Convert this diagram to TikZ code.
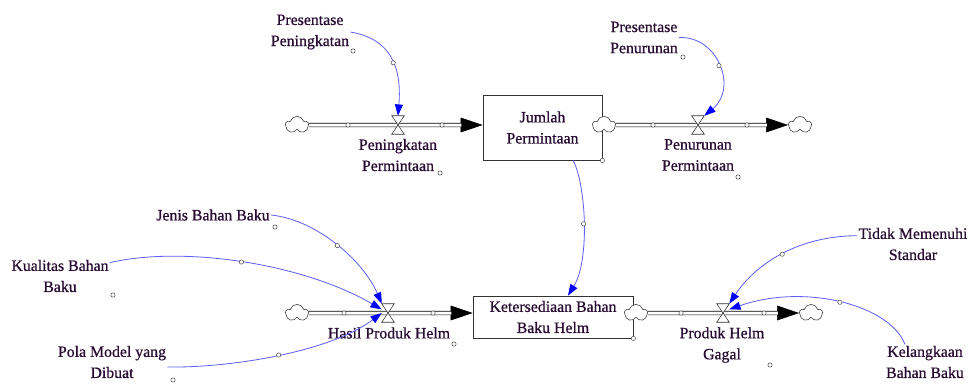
\documentclass[tikz,border=0pt]{standalone}
\usepackage{fontspec}
\setmainfont{Liberation Serif}
\newfontfamily\vensimfont[FakeBold=0.7]{Liberation Serif}
\usetikzlibrary{arrows.meta,shapes.symbols}
\definecolor{txt}{RGB}{40,12,50}
\definecolor{conn}{RGB}{95,95,245}
\newcommand{\valvesign}[1]{\draw[gray!40!black,fill=white,line width=.5pt] (#1.north west) -- (#1.north east) -- (#1.south west) -- (#1.south east) -- cycle;}

\begin{document}
\begin{tikzpicture}[x=.03cm,y=-.03cm,
	lbl/.style={align=center,text=txt,inner sep=1pt,font=\vensimfont\fontsize{13.5}{18}\selectfont},
	stock/.style={lbl,draw=gray!40!black,fill=white,line width=.6pt},
	valvebox/.style={minimum width=.36cm,minimum height=.54cm,inner sep=0pt},
	cloudy/.style={cloud,cloud puffs=5,draw=gray!50!black,fill=white,line width=.5pt,minimum width=.68cm,minimum height=.52cm,inner sep=0pt},
	handle/.style={circle,draw=gray!50!black,fill=white,line width=.4pt,inner sep=0pt,minimum size=1.3mm},
	link/.style={conn,line width=.7pt,-{Triangle[length=3.4mm,width=2.4mm,color=blue]}},
	pipetip/.style={line width=.5pt,-{Triangle[length=6.6mm,width=4.4mm]}},
	pipe/.style={double=white,double distance=.09cm,line width=.5pt,shorten >=6.4mm}]
	\useasboundingbox (0,0) rectangle (970,383);
		% stocks and clouds
		\node[stock,minimum width=3.57cm,minimum height=1.95cm] (jumlah) at (542.5,127.5) {Jumlah\\Permintaan};
		\node[stock,minimum width=4.8cm,minimum height=1.26cm] (sedia) at (553,317) {Ketersediaan Bahan\\Baku Helm};
		\node[cloudy] (cL1) at (297,125) {};
		\node[cloudy] (cR1) at (604,125) {};
		\node[cloudy] (cE1) at (800,125) {};
		\node[cloudy] (cL2) at (297,313) {};
		\node[cloudy] (cR2) at (636,313) {};
		\node[cloudy] (cE2) at (811,313) {};
		% valves
		\node[valvebox] (v1) at (398,125) {};
		\node[valvebox] (v4) at (698,125) {};
		\node[valvebox] (v2) at (388,313) {};
		\node[valvebox] (v3) at (723,313) {};
		% pipes
		\draw[pipetip] (cL1.east) -- (jumlah.west |- cL1);
		\draw[pipe] (cL1.east) -- (jumlah.west |- cL1);
		\draw[pipetip] (cR1.east) -- (cE1.west);
		\draw[pipe] (cR1.east) -- (cE1.west);
		\draw[pipetip] (cL2.east) -- (sedia.west |- cL2);
		\draw[pipe] (cL2.east) -- (sedia.west |- cL2);
		\draw[pipetip] (cR2.east) -- (cE2.west);
		\draw[pipe] (cR2.east) -- (cE2.west);
		\valvesign{v1}
		\valvesign{v4}
		\valvesign{v2}
		\valvesign{v3}
		\node[handle] (p1) at (348,125) {};
		\node[handle] (p2) at (442,125) {};
		\node[handle] (p3) at (653,125) {};
		\node[handle] (p4) at (747,125) {};
		\node[handle] (p5) at (344,313) {};
		\node[handle] (p6) at (433,313) {};
		\node[handle] (p7) at (681,313) {};
		\node[handle] (p8) at (764,313) {};
		% labels
		\node[lbl] (presNaik) at (310,32) {Presentase\\Peningkatan};
		\node[lbl] (presTurun) at (644,37.5) {Presentase\\Penurunan};
		\node[lbl] (naik) at (398,155) {Peningkatan\\Permintaan};
		\node[lbl] (turun) at (698,155) {Penurunan\\Permintaan};
		\node[lbl] (jenis) at (213,215) {Jenis Bahan Baku};
		\node[lbl] (kualitas) at (60,276) {Kualitas Bahan\\Baku};
		\node[lbl] (pola) at (112,362) {Pola Model yang\\Dibuat};
		\node[lbl] (hasil) at (389,333) {Hasil Produk Helm};
		\node[lbl] (gagal) at (722,345) {Produk Helm\\Gagal};
		\node[lbl] (tidak) at (913,244) {Tidak Memenuhi\\Standar};
		\node[lbl] (langka) at (925,362) {Kelangkaan\\Bahan Baku};
		\node[handle] (l1) at (353,51) {};
		\node[handle] (l2) at (440,173) {};
		\node[handle] (l3) at (jumlah.south east) {};
		\node[handle] (l4) at (683,57) {};
		\node[handle] (l5) at (738,177) {};
		\node[handle] (l6) at (275,227) {};
		\node[handle] (l7) at (113,295) {};
		\node[handle] (l8) at (173,380) {};
		\node[handle] (l9) at (454,344) {};
		\node[handle] (l10) at (sedia.south east) {};
		\node[handle] (l11) at (770,365) {};
		% links
		\draw[link] (presNaik.east) .. controls (398,40) and (401,78) .. (v1.north) node[handle,pos=.5] (k1) {};
		\draw[link] (presTurun.east) .. controls (718,36) and (738,88) .. (v4.north east) node[handle,pos=.5] (k2) {};
		\draw[link] (jumlah.-47) .. controls (586,185) and (590,260) .. (sedia.55) node[handle,pos=.5] (k3) {};
		\draw[link] (jenis.east) .. controls (318,220) and (364,262) .. (v2.north west) node[handle,pos=.5] (k4) {};
		\draw[link] ([yshift=.4cm]kualitas.east) .. controls (180,246) and (300,262) .. (v2.150) node[handle,pos=.5] (k5) {};
		\draw[link] ([yshift=-.15cm]pola.east) .. controls (230,368) and (330,352) .. (v2.west) node[handle,pos=.5] (k6) {};
		\draw[link] ([yshift=.25cm]tidak.west) .. controls (800,236) and (757,262) .. (v3.north east) node[handle,pos=.5] (k7) {};
		\draw[link] ([xshift=-.6cm]langka.north) .. controls (890,305) and (805,283) .. (v3.30) node[handle,pos=.5] (k8) {};
\end{tikzpicture}
\end{document}
